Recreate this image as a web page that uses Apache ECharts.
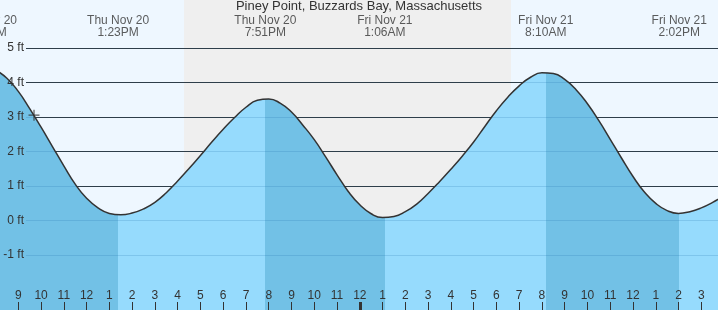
<!DOCTYPE html>
<html><head><meta charset="utf-8">
<script src="https://cdn.jsdelivr.net/npm/echarts@6/dist/echarts.min.js"></script>
<style>html,body{margin:0;padding:0;background:#fff}#c{width:718px;height:310px}</style>
</head><body><div id="c"></div>
<script>
// Hours since Thu Nov 20 00:00
const chartTitle = 'Piney Point, Buzzards Bay, Massachusetts';
const hours = [8.0, 8.5, 9.0, 9.5, 10.0, 10.5, 11.0, 11.5, 12.0, 12.5, 13.0, 13.5,
  14.0, 14.5, 15.0, 15.5, 16.0, 16.5, 17.0, 17.5, 18.0, 18.5, 19.0, 19.5, 20.0,
  20.5, 21.0, 21.5, 22.0, 22.5, 23.0, 23.5, 24.0, 24.5, 25.0,
  25.5, 26.0, 26.5, 27.0, 27.5, 28.0, 28.5, 29.0, 29.5, 30.0, 30.5, 31.0, 31.5, 32.0,
  32.5, 33.0, 33.5, 34.0, 34.5, 35.0, 35.5, 36.0, 36.5, 37.0, 37.5, 38.0,
  38.5, 39.0, 39.5, 40.0];
const heights = [4.36, 4.12, 3.74, 3.24, 2.70, 2.14, 1.58, 1.05, 0.64, 0.36, 0.20, 0.16,
  0.21, 0.33, 0.52, 0.80, 1.14, 1.50, 1.88, 2.27, 2.64, 2.98, 3.28, 3.48, 3.52,
  3.40, 3.14, 2.76, 2.34, 1.84, 1.32, 0.83, 0.45, 0.19, 0.08,
  0.11, 0.25, 0.47, 0.78, 1.12, 1.48, 1.86, 2.27, 2.73, 3.18, 3.57, 3.90, 4.15, 4.28,
  4.26, 4.09, 3.79, 3.38, 2.89, 2.35, 1.80, 1.27, 0.82, 0.49, 0.28, 0.20,
  0.25, 0.36, 0.52, 0.71];
const extremeHours = [7.58, 13.383, 19.85, 25.1, 32.167, 38.033];
const extremeDays = ['Thu Nov 20', 'Thu Nov 20', 'Thu Nov 20', 'Fri Nov 21', 'Fri Nov 21', 'Fri Nov 21'];
const extremeTimes = ['7:35AM', '1:23PM', '7:51PM', '1:06AM', '8:10AM', '2:02PM'];
const nightStart = 16.28, nightEnd = 30.64;
const nowPoint = [9.69, 3.05];
const xMin = 8, xMax = 40;
const yMinFt = -1, yMaxFt = 5;

const DARK = '#72c1e6', LIGHT = '#96dbfd', DAY = '#eef7ff', NIGHT = '#efefef', INK = '#333';
const FONT = 'Liberation Sans, Arial, sans-serif';

const tideData = hours.map((h, i) => [h, heights[i]]);
// fill pieces: falling tide darker, rising lighter
const bounds = [xMin].concat(extremeHours.slice(1), [xMax]);
const pieces = [];
for (let i = 0; i < bounds.length - 1; i++) {
  pieces.push({ gte: bounds[i], lt: bounds[i + 1], color: i % 2 === 0 ? DARK : LIGHT });
}
pieces[pieces.length - 1].lte = xMax;

const chart = echarts.init(document.getElementById('c'), null, { renderer: 'canvas' });
chart.setOption({
  animation: false,
  backgroundColor: '#fff',
  title: {
    text: chartTitle, left: 'center', top: 0, padding: 0,
    textStyle: { fontFamily: FONT, fontSize: 13, fontWeight: 'normal', color: INK }
  },
  grid: [
    { left: -4.47, right: -6.07, top: 0, bottom: 0, containLabel: false, outerBoundsMode: 'none' },
    { left: 26, right: 0, top: 48, bottom: 55.2, containLabel: false, outerBoundsMode: 'none' },
    { left: 26, right: 0, top: 48, bottom: 55.2, containLabel: false, outerBoundsMode: 'none' }
  ],
  xAxis: [
    { gridIndex: 0, type: 'value', min: xMin, max: xMax, interval: 1, position: 'bottom', z: 5,
      axisLine: { show: false, onZero: false }, splitLine: { show: false },
      axisTick: { show: true, inside: true, length: 8, lineStyle: { color: INK, width: 1 } },
      axisLabel: { inside: true, margin: 8, color: INK, fontFamily: FONT, fontSize: 12,
        formatter: v => { const h = Math.round(v) % 12; return String(h === 0 ? 12 : h); } } },
    { gridIndex: 0, type: 'value', min: xMin, max: xMax, interval: 16, position: 'bottom', z: 5,
      axisLine: { show: false, onZero: false }, splitLine: { show: false }, axisLabel: { show: false },
      axisTick: { show: true, inside: true, length: 8, lineStyle: { color: INK, width: 3 } } },
    { gridIndex: 1, type: 'value', min: 0, max: 1, show: false, axisLine: { onZero: false } },
    { gridIndex: 2, type: 'value', min: 0, max: 1, show: false, axisLine: { onZero: false } }
  ],
  yAxis: [
    { gridIndex: 0, type: 'value', min: -2.602, max: 6.391, show: false, axisLine: { onZero: false } },
    { gridIndex: 1, type: 'value', min: yMinFt, max: yMaxFt, interval: 1, z: 2,
      axisLine: { show: false, onZero: false }, axisTick: { show: false }, axisLabel: { show: false },
      splitLine: { show: true, lineStyle: { color: INK, width: 1 } } },
    { gridIndex: 2, type: 'value', min: yMinFt, max: yMaxFt, interval: 1, z: 4,
      axisLine: { show: false, onZero: false }, axisTick: { show: false },
      axisLabel: { show: true, margin: 2, color: INK, fontFamily: FONT, fontSize: 12, formatter: '{value} ft' },
      splitLine: { show: true, lineStyle: { color: 'rgba(30,110,170,0.2)', width: 1 } } }
  ],
  visualMap: [{ type: 'piecewise', show: false, dimension: 0, seriesIndex: 0, pieces: pieces }],
  series: [
    { type: 'line', xAxisIndex: 0, yAxisIndex: 0, z: 3, data: tideData, smooth: 0.5,
      symbol: 'none', lineStyle: { width: 0 }, areaStyle: { origin: 'start', opacity: 1 },
      markArea: { silent: true, z: 1, data: [
        [{ xAxis: xMin, itemStyle: { color: DAY, opacity: 1 } }, { xAxis: nightStart }],
        [{ xAxis: nightStart, itemStyle: { color: NIGHT, opacity: 1 } }, { xAxis: nightEnd }],
        [{ xAxis: nightEnd, itemStyle: { color: DAY, opacity: 1 } }, { xAxis: xMax }]
      ] } },
    { type: 'line', xAxisIndex: 0, yAxisIndex: 0, z: 6, data: tideData, smooth: 0.5,
      symbol: 'none', lineStyle: { color: INK, width: 1.5 } },
    { type: 'scatter', xAxisIndex: 0, yAxisIndex: 0, z: 7, data: [nowPoint],
      symbol: 'path://M0,5L10,5M5,0L5,10', symbolSize: 11,
      itemStyle: { color: 'rgba(0,0,0,0)', borderColor: INK, borderWidth: 1.2 } },
    { type: 'scatter', xAxisIndex: 0, yAxisIndex: 0, z: 7, symbolSize: 0, clip: false,
      data: extremeHours.map((h, i) => ({ value: [h, 6.391], name: extremeDays[i] + '\n' + extremeTimes[i] })),
      label: { show: true, position: 'bottom', distance: 15, formatter: p => p.name,
        color: INK, fontFamily: FONT, fontSize: 12, lineHeight: 12, align: 'center' } }
  ]
});
</script></body></html>
